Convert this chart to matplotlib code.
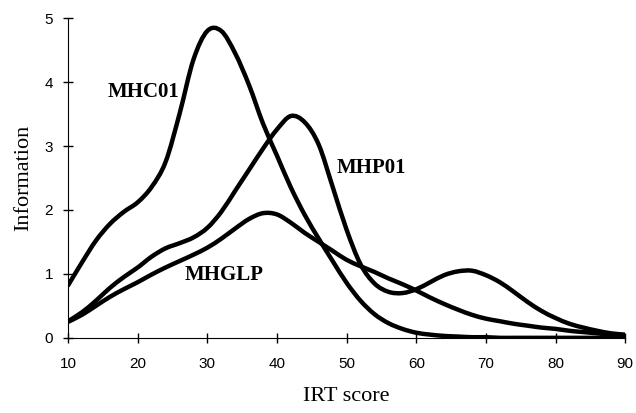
import matplotlib
matplotlib.use('Agg')
import matplotlib.pyplot as plt
from matplotlib.path import Path
from matplotlib.patches import PathPatch

# IRT score grid (step 2)
irt = list(range(10, 91, 2))

mhc01 = [0.82, 1.18, 1.52, 1.78, 1.97, 2.12, 2.36, 2.75, 3.50, 4.35,
         4.80, 4.80, 4.45, 3.95, 3.35, 2.85, 2.35, 1.92, 1.55, 1.20,
         0.86, 0.58, 0.37, 0.23, 0.14, 0.08, 0.05, 0.03, 0.02, 0.01,
         0.01, 0.0, 0.0, 0.0, 0.0, 0.0, 0.0, 0.0, 0.0, 0.0, 0.0]

mhp01 = [0.26, 0.40, 0.58, 0.78, 0.95, 1.10, 1.27, 1.40, 1.48, 1.57,
         1.72, 1.97, 2.30, 2.63, 2.96, 3.26, 3.47, 3.37, 3.02, 2.36,
         1.69, 1.15, 0.85, 0.72, 0.70, 0.76, 0.87, 0.98, 1.04, 1.05,
         0.98, 0.87, 0.72, 0.56, 0.42, 0.31, 0.22, 0.16, 0.11, 0.07, 0.05]

mhglp = [0.25, 0.36, 0.50, 0.64, 0.76, 0.87, 0.99, 1.10, 1.20, 1.30,
         1.41, 1.55, 1.71, 1.86, 1.95, 1.93, 1.80, 1.64, 1.50, 1.36,
         1.22, 1.12, 1.03, 0.93, 0.84, 0.74, 0.63, 0.53, 0.44, 0.36,
         0.30, 0.26, 0.22, 0.19, 0.16, 0.14, 0.11, 0.09, 0.07, 0.05, 0.04]


def smooth_path(xs, ys):
    # excel style smoothed line: bezier segments through the points
    pts = list(zip(xs, ys))
    n = len(pts)
    verts = [pts[0]]
    codes = [Path.MOVETO]
    for i in range(n - 1):
        p0 = pts[max(i - 1, 0)]
        p1 = pts[i]
        p2 = pts[i + 1]
        p3 = pts[min(i + 2, n - 1)]
        c1 = (p1[0] + (p2[0] - p0[0]) / 6, p1[1] + (p2[1] - p0[1]) / 6)
        c2 = (p2[0] - (p3[0] - p1[0]) / 6, p2[1] - (p3[1] - p1[1]) / 6)
        verts += [c1, c2, p2]
        codes += [Path.CURVE4] * 3
    return Path(verts, codes)


fig = plt.figure(figsize=(6.36, 4.13), dpi=100)
ax = fig.add_axes([0.107, 0.182, 0.876, 0.774])

for s in [mhc01, mhp01, mhglp]:
    ax.add_patch(PathPatch(smooth_path(irt, s), fill=False, edgecolor='black',
                           linewidth=3.2, capstyle='round', joinstyle='round'))

ax.set_xlim(10, 90)
ax.set_ylim(0, 5)
ax.set_xticks(range(10, 91, 10))
ax.set_yticks(range(0, 6))
ax.spines['top'].set_visible(False)
ax.spines['right'].set_visible(False)
ax.tick_params(axis='x', direction='inout', length=7.5, width=1, labelsize=11, pad=10)
ax.tick_params(axis='y', direction='inout', length=6.5, width=1, labelsize=11, pad=7.5)
for lab in ax.get_xticklabels() + ax.get_yticklabels():
    lab.set_fontfamily('Liberation Sans')

ax.set_xlabel('IRT score', fontfamily='Liberation Serif', fontsize=16, labelpad=11.5)
ax.set_ylabel('Information', fontfamily='Liberation Serif', fontsize=16, labelpad=8)

ax.text(20.8, 3.85, 'MHC01', fontfamily='Liberation Serif', fontweight='bold', fontsize=15, ha='center', va='center')
ax.text(53.5, 2.66, 'MHP01', fontfamily='Liberation Serif', fontweight='bold', fontsize=15, ha='center', va='center')
ax.text(32.4, 0.99, 'MHGLP', fontfamily='Liberation Serif', fontweight='bold', fontsize=15, ha='center', va='center')

fig.savefig('out.png', dpi=100)
